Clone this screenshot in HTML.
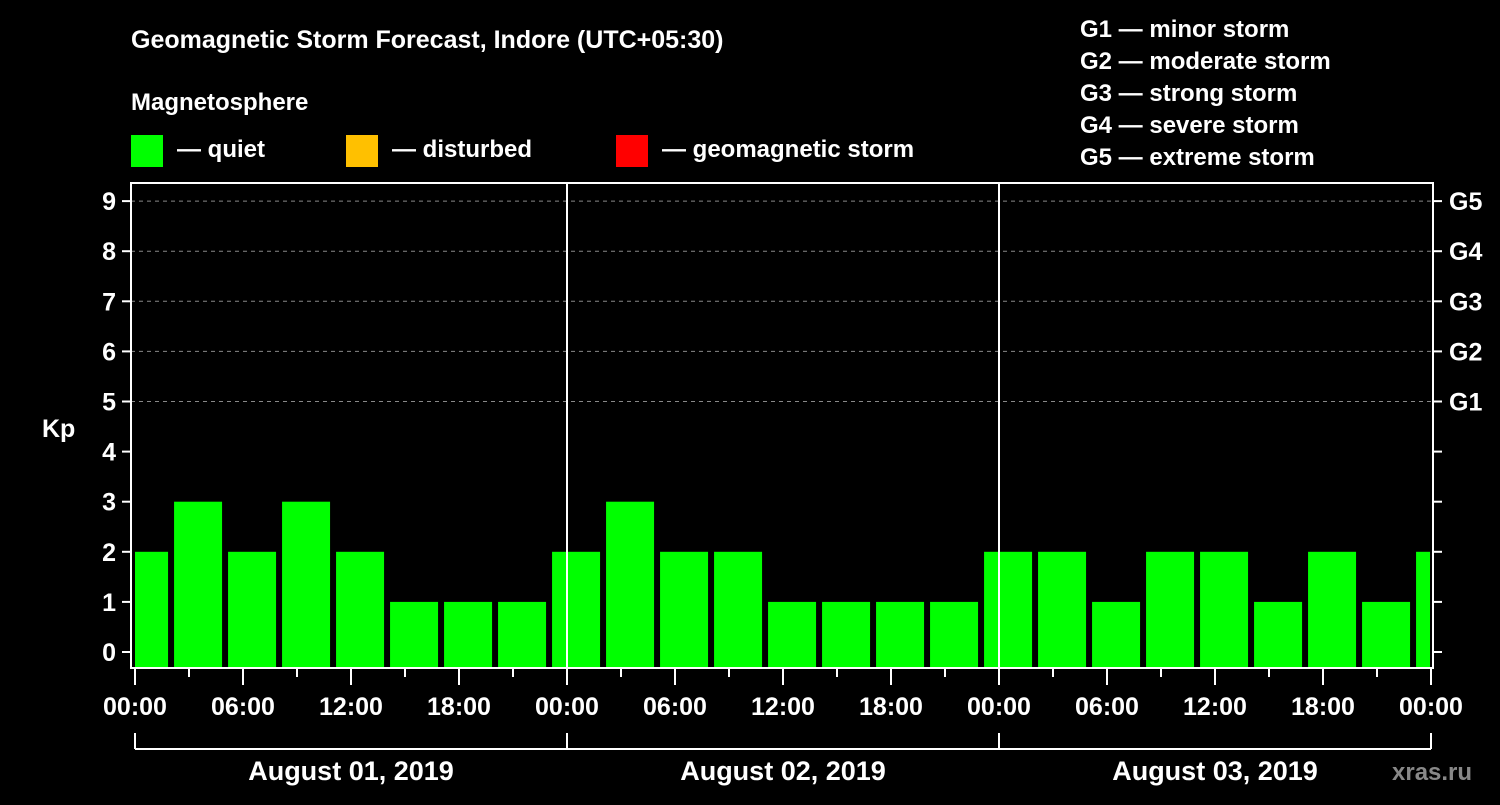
<!DOCTYPE html>
<html><head><meta charset="utf-8"><style>
body{margin:0;background:#000;width:1500px;height:800px;overflow:hidden}
svg text{font-family:"Liberation Sans",Arial,sans-serif;font-weight:bold;fill:#fff}
</style></head><body>
<svg id="chart" width="1500" height="800" xmlns="http://www.w3.org/2000/svg">
<rect width="1500" height="800" fill="#000"/>
<text x="131" y="48" font-size="25">Geomagnetic Storm Forecast, Indore (UTC+05:30)</text>
<text x="131" y="110" font-size="24">Magnetosphere</text>
<rect x="131" y="135" width="32" height="32" fill="#00ff00"/>
<text x="177" y="157" font-size="24">— quiet</text>
<rect x="346" y="135" width="32" height="32" fill="#ffc000"/>
<text x="392" y="157" font-size="24">— disturbed</text>
<rect x="616" y="135" width="32" height="32" fill="#ff0000"/>
<text x="662" y="157" font-size="24">— geomagnetic storm</text>
<g font-size="24">
<text x="1080" y="37">G1 — minor storm</text>
<text x="1080" y="69">G2 — moderate storm</text>
<text x="1080" y="101">G3 — strong storm</text>
<text x="1080" y="133">G4 — severe storm</text>
<text x="1080" y="165">G5 — extreme storm</text>
</g>
<text x="42" y="437" font-size="25">Kp</text>
<text x="1392" y="780" font-size="24" fill="#aaa" style="fill:#888">xras.ru</text>
<g id="plot"></g>
</svg>
<script>
const kpValues=[2,3,2,3,2,1,1,1,2,3,2,2,1,1,1,1,2,2,1,2,2,1,2,1,2];
const yTicks=[0,1,2,3,4,5,6,7,8,9];
const gLabels=["G1","G2","G3","G4","G5"];
const dayLabels=["August 01, 2019","August 02, 2019","August 03, 2019"];
const hourLabels=["00:00","06:00","12:00","18:00"];
const NS="http://www.w3.org/2000/svg";
const L=131,R=1433,T=183,B=668,X0=135,DAY=432;
const y=k=>652-50.1*k;
const xh=h=>X0+h*18;
const g=document.getElementById('plot');
function mk(t,a,p){const e=document.createElementNS(NS,t);for(const k in a)e.setAttribute(k,a[k]);(p||g).appendChild(e);return e;}
// grid for G levels
for(let i=0;i<gLabels.length;i++){
 const l=mk('line',{x1:L,x2:R,y1:y(5+i),y2:y(5+i),stroke:'#888','stroke-dasharray':'4,4','stroke-width':1});
 
 
 const t=mk('text',{x:1449,y:y(5+i)+9,'font-size':25});
 t.textContent=gLabels[i];
 
 
}
// bars
const cp=mk('clipPath',{id:'clip'});mk('rect',{x:X0,y:0,width:R-3-X0,height:800},cp);
kpValues.forEach((v,i)=>{
 const col=v>=5?'#ff0000':(v>=4?'#ffc000':'#00ff00');
 const r=mk('rect',{x:xh(-0.83+3*i),y:y(v),width:48,height:B-y(v),fill:col,'clip-path':'url(#clip)'});
 
 
});
// day separators
for(let d=1;d<3;d++){const l=mk('line',{x1:X0+d*DAY,x2:X0+d*DAY,y1:T,y2:B,stroke:'#fff','stroke-width':2});
 
 }
// frame
const f=mk('rect',{x:L,y:T,width:R-L,height:B-T,fill:'none',stroke:'#fff','stroke-width':2});


// y ticks
yTicks.forEach(k=>{
 mk('line',{x1:122,x2:L,y1:y(k),y2:y(k),stroke:'#fff','stroke-width':2});
 mk('line',{x1:R,x2:1442,y1:y(k),y2:y(k),stroke:'#fff','stroke-width':2});
 const t=mk('text',{x:116,y:y(k)+9,'font-size':25,'text-anchor':'end'});
 t.textContent=k;
 
 
});
// x ticks
for(let h=0;h<=72;h+=3){
 mk('line',{x1:xh(h),x2:xh(h),y1:B,y2:h%6==0?685:677,stroke:'#fff','stroke-width':2});
 if(h%6==0){const t=mk('text',{x:xh(h),y:715,'font-size':25,'text-anchor':'middle'});
  t.textContent=hourLabels[(h/6)%4];
  
  }
}
// date brackets
mk('line',{x1:X0,x2:X0+3*DAY,y1:749,y2:749,stroke:'#fff','stroke-width':2});
for(let d=0;d<=3;d++)mk('line',{x1:X0+d*DAY,x2:X0+d*DAY,y1:733,y2:749,stroke:'#fff','stroke-width':2});
dayLabels.forEach((s,d)=>{const t=mk('text',{x:X0+d*DAY+DAY/2,y:780,'font-size':27,'text-anchor':'middle'});
 t.textContent=s;
 
 });
</script>
</body></html>
